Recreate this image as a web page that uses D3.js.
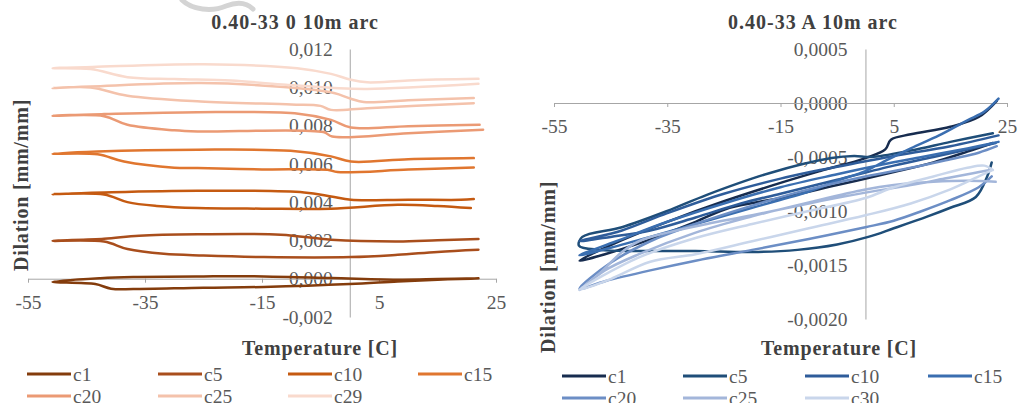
<!DOCTYPE html>
<html>
<head>
<meta charset="utf-8">
<script src="https://cdn.jsdelivr.net/npm/d3@7"></script>
<style>
  html, body { margin: 0; padding: 0; background: #fff; }
  svg { display: block; }
  text { font-family: "Liberation Serif", "Times New Roman", serif; }
</style>
</head>
<body>
<svg id="chart" width="1019" height="403"></svg>
<script>
// Thermal dilation cycles, temperature [C] vs dilation [mm/mm]

const tempTicks = [-55, -35, -15, 5, 25];
const leftDilTicks = [-0.002, 0, 0.002, 0.004, 0.006, 0.008, 0.010, 0.012];
const rightDilTicks = [-0.002, -0.0015, -0.001, -0.0005, 0, 0.0005];

const leftTitle = "0.40-33 0 10m arc";
const rightTitle = "0.40-33 A 10m arc";
const xTitle = "Temperature [C]";
const yTitle = "Dilation [mm/mm]";

const leftNames = ["c1", "c5", "c10", "c15", "c20", "c25", "c29"];
const rightNames = ["c1", "c5", "c10", "c15", "c20", "c25", "c30"];

// left specimen cycles: [temperature, dilation]
const leftC1 = [[22, 0.00002], [15, -0.00002], [8.7, -0.00005], [-3.2, 0.00004], [-14.7, 0.00012], [-25, 0.00012], [-37, 0.00009], [-42.6, 0.00003], [-50.8, -0.00016],
  [-43.5, -0.00028], [-40.8, -0.00052], [-37, -0.00054], [-25, -0.00047], [-14.7, -0.00043], [0, -0.00028], [8.2, -0.00014], [15, -0.00005], [20.7, 0.0], [22, 0.00002]];
const leftC5 = [[22, 0.00207], [15, 0.00201], [8.2, 0.00195], [-3.2, 0.00204], [-11.8, 0.0023], [-26, 0.00232], [-36, 0.00225], [-42, 0.00209], [-50.8, 0.00198],
  [-42, 0.00194], [-38, 0.00155], [-31.8, 0.0013], [-25, 0.00121], [-14.7, 0.00113], [0.2, 0.00113], [8.2, 0.00125], [15, 0.0014], [22, 0.00151]];
const leftC10 = [[21.2, 0.00416], [19, 0.00412], [10, 0.00413], [0.2, 0.00412], [-3.2, 0.0043], [-7.8, 0.00451], [-26, 0.0046], [-42, 0.00451], [-50.8, 0.00442],
  [-42, 0.0044], [-38, 0.004], [-33, 0.0038], [-26, 0.00369], [-15, 0.00366], [-3.2, 0.00366], [8.2, 0.00386], [15, 0.0038], [20.7, 0.00369]];
const leftC15 = [[21.2, 0.0063], [10, 0.00624], [0.2, 0.00612], [-3.2, 0.00639], [-10.1, 0.00668], [-26, 0.00674], [-43.1, 0.00665], [-50.8, 0.00653],
  [-43.1, 0.0065], [-38.6, 0.00612], [-30, 0.0058], [-26, 0.00578], [-15, 0.00571], [-3.8, 0.00569], [-2.1, 0.00557], [10, 0.0057], [21.2, 0.00581]];
const leftC20 = [[22.2, 0.00804], [10, 0.00797], [0.2, 0.0079], [-3.2, 0.0083], [-8.8, 0.00862], [-26, 0.0087], [-42, 0.0086], [-50.8, 0.00851],
  [-42, 0.00849], [-38, 0.00804], [-30, 0.00775], [-26, 0.00769], [-4.5, 0.00766], [-3, 0.00743], [10, 0.0076], [22.8, 0.00778]];
const leftC25 = [[21.2, 0.00944], [10, 0.00932], [2.4, 0.00923], [0.2, 0.0094], [-2.7, 0.0097], [-11.3, 0.01001], [-25.4, 0.01022], [-44.3, 0.01004], [-50.8, 0.00996],
  [-44.3, 0.00999], [-38, 0.00956], [-25.5, 0.00926], [-10, 0.0091], [-5, 0.00903], [-3.2, 0.00882], [3, 0.00891], [21.2, 0.00917]];
const leftC29 = [[22, 0.01044], [10, 0.01036], [3, 0.01026], [0.2, 0.01039], [-3.2, 0.0107], [-9, 0.011], [-25, 0.0112], [-44, 0.01106], [-50.8, 0.011],
  [-44.3, 0.01095], [-38, 0.01053], [-30, 0.01043], [-20.3, 0.01035], [-10.9, 0.01013], [-2.7, 0.00996], [3, 0.00991], [22, 0.01018]];

// right specimen cycles: [temperature, dilation]
const rightC1 = [[23.2, 0.00002], [20, -0.00013], [15, -0.00022], [8, -0.00029], [4.5, -0.00034], [3.5, -0.00043], [0, -0.00051], [-8, -0.00063], [-15, -0.00074],
  [-25, -0.00091], [-35, -0.0011], [-43, -0.00127], [-50.5, -0.00146],
  [-46, -0.0014], [-40, -0.0013], [-30, -0.0011], [-24, -0.00097], [-15, -0.00088], [-5, -0.00076], [5, -0.00064], [12, -0.00055], [18, -0.00045], [22.5, -0.00037]];
const rightC5 = [[22.3, -0.00055], [21.5, -0.00068], [19.5, -0.00087], [15, -0.00097], [11, -0.00105], [5, -0.00116], [0.5, -0.00124], [-5, -0.00131], [-12, -0.00136],
  [-20, -0.00138], [-30, -0.00137], [-40, -0.00137], [-47, -0.00136], [-50.6, -0.00132],
  [-50, -0.00124], [-43, -0.00115], [-35, -0.001], [-28, -0.00085], [-17, -0.00065], [-6, -0.00051], [-2, -0.00049], [1, -0.0005], [8, -0.00044], [15, -0.00036], [22.5, -0.00028]];
const rightC10 = [[23.5, -0.0003], [15, -0.0004], [5, -0.00049], [0, -0.00054], [-8, -0.00062], [-15, -0.0007], [-25, -0.00084], [-35, -0.00102], [-43, -0.00118], [-50.5, -0.00128],
  [-45, -0.00124], [-38, -0.00118], [-30, -0.00106], [-22, -0.00093], [-15, -0.00084], [-5, -0.00071], [5, -0.00058], [12, -0.0005], [18, -0.00043], [23, -0.00037]];
const rightC15 = [[23.5, -0.00036], [18, -0.00042], [10, -0.0005], [3, -0.00057], [-5, -0.00066], [-15, -0.00078], [-25, -0.00093], [-35, -0.0011], [-44, -0.00128], [-50.5, -0.00141],
  [-45, -0.00134], [-38, -0.00124], [-30, -0.00112], [-20, -0.00097], [-10, -0.00082], [-5, -0.00072], [0, -0.00063], [3, -0.00055], [8, -0.00042], [13, -0.0003], [18, -0.00016], [21, -0.00008], [23.5, 0.00004]];
const rightC20 = [[23.2, -0.0004], [20, -0.00046], [15, -0.00052], [8, -0.0006], [0, -0.00068], [-10, -0.0008], [-20, -0.00095], [-30, -0.00112], [-38, -0.00128], [-45, -0.00148], [-50.5, -0.00172],
  [-46, -0.00165], [-38, -0.00155], [-30, -0.00146], [-20, -0.00136], [-10, -0.00126], [0, -0.00115], [5, -0.00109], [10, -0.001], [15, -0.0009], [20, -0.00078], [22.3, -0.00068]];
const rightC25 = [[23, -0.00073], [18, -0.00072], [12, -0.00073], [5, -0.00076], [0, -0.0008], [-10, -0.00092], [-20, -0.00105], [-30, -0.0012], [-40, -0.0014], [-46, -0.00155], [-50.5, -0.00173],
  [-47, -0.00158], [-43, -0.00138], [-40, -0.00128], [-35, -0.0012], [-28, -0.00112], [-20, -0.00104], [-10, -0.00093], [0, -0.00083], [8, -0.00076], [14, -0.0007], [19, -0.00065], [22, -0.00062]];
const rightC30 = [[22.5, -0.00062], [21, -0.00058], [18, -0.0006], [12, -0.00068], [5, -0.00078], [0, -0.00088], [-10, -0.001], [-20, -0.00112], [-30, -0.00125], [-40, -0.00143], [-50.5, -0.00173],
  [-45, -0.00163], [-38, -0.00147], [-30, -0.0014], [-20, -0.00128], [-10, -0.00116], [0, -0.00104], [8, -0.00093], [15, -0.0008], [20, -0.00068], [22.5, -0.00062]];

const leftSeries = [leftC1, leftC5, leftC10, leftC15, leftC20, leftC25, leftC29];
const rightSeries = [rightC1, rightC5, rightC10, rightC15, rightC20, rightC25, rightC30];

const leftColors = ["#843c0c", "#a94e1c", "#c55a11", "#e0762f", "#eb9a74", "#f4c2ab", "#f9dacd"];
const rightColors = ["#172c4f", "#1f4e79", "#2e5c9a", "#3a6eb0", "#6c8ec5", "#a3b6da", "#c9d6eb"];

const svg = d3.select("#chart");
// comma decimals and a plain hyphen for negatives
const commaLocale = d3.formatLocale({ decimal: ",", thousands: ".", grouping: [3], currency: ["", ""], minus: "-" });
const axisColor = "#a6a6a6";
const labelColor = "#595959";
const titleColor = "#404040";

// faint watermark swoosh at the top
svg.append("path")
  .attr("d", "M182,0 C192,10 212,12 226,6 C236,2 246,2 253,9")
  .attr("fill", "none").attr("stroke", "#d4d4d4").attr("stroke-width", 5)
  .attr("stroke-linecap", "round");

function drawPanel(cfg) {
  const g = svg.append("g");
  const x = d3.scaleLinear().domain([-55, 25]).range(cfg.xRange);
  const y = d3.scaleLinear().domain(cfg.yDomain).range(cfg.yRange);
  const fmt = commaLocale.format(cfg.yFormat);

  // vertical axis through zero temperature
  const yAxis = d3.axisLeft(y).tickValues(cfg.yTicks).tickSize(0).tickPadding(cfg.yPad).tickFormat(fmt);
  const ya = g.append("g").attr("transform", `translate(${x(0)},0)`).call(yAxis);
  ya.select(".domain").attr("stroke", axisColor);
  ya.selectAll("text").attr("font-size", 19.5).attr("fill", labelColor)
    .attr("font-family", "Liberation Serif");

  // horizontal axis through zero dilation
  const xAxis = d3.axisBottom(x).tickValues(tempTicks).tickSize(4).tickSizeOuter(0).tickPadding(12)
    .tickFormat(commaLocale.format("d"));
  const xa = g.append("g").attr("transform", `translate(0,${y(0)})`).call(xAxis);
  xa.select(".domain").attr("stroke", axisColor);
  xa.selectAll(".tick line").attr("stroke", axisColor);
  xa.selectAll("text").attr("font-size", 19.5).attr("fill", labelColor)
    .attr("font-family", "Liberation Serif");

  // cycle curves
  const line = d3.line().x(d => x(d[0])).y(d => y(d[1])).curve(d3.curveCatmullRom.alpha(0.5));
  cfg.series.forEach((s, i) => {
    g.append("path").datum(s)
      .attr("d", line)
      .attr("fill", "none")
      .attr("stroke", cfg.colors[i])
      .attr("stroke-width", 2.5)
      .attr("stroke-linejoin", "round")
      .attr("stroke-linecap", "round");
  });

  // titles
  g.append("text").attr("x", cfg.titleX).attr("y", 29).attr("text-anchor", "middle")
    .attr("font-size", 20).attr("font-weight", "bold").attr("letter-spacing", 1)
    .attr("fill", titleColor).text(cfg.title);
  g.append("text").attr("x", cfg.xTitleX).attr("y", 355).attr("text-anchor", "middle")
    .attr("font-size", 20).attr("font-weight", "bold").attr("letter-spacing", 0.8)
    .attr("fill", titleColor).text(xTitle);
  g.append("text").attr("transform", `translate(${cfg.yTitleX},${cfg.yTitleY}) rotate(-90)`)
    .attr("text-anchor", "middle")
    .attr("font-size", 20).attr("font-weight", "bold").attr("letter-spacing", 0.8)
    .attr("fill", titleColor).text(yTitle);

  // legend, four entries per row
  cfg.names.forEach((name, i) => {
    const col = i % 4, row = Math.floor(i / 4);
    const lx = cfg.legendX[col], ly = cfg.legendY[row];
    g.append("line").attr("x1", lx).attr("x2", lx + 44).attr("y1", ly).attr("y2", ly)
      .attr("stroke", cfg.colors[i]).attr("stroke-width", 3);
    g.append("text").attr("x", lx + 46).attr("y", ly + 6.5)
      .attr("font-size", 19.5).attr("fill", labelColor).text(name);
  });
}

drawPanel({
  xRange: [28, 496], yDomain: [-0.002, 0.012], yRange: [317, 49],
  yTicks: leftDilTicks, yFormat: ".3f", yPad: 17,
  series: leftSeries, colors: leftColors, names: leftNames,
  title: leftTitle, titleX: 295, xTitleX: 320, yTitleX: 28, yTitleY: 185,
  legendX: [27, 158, 288, 418], legendY: [374, 396]
});

drawPanel({
  xRange: [554, 1007], yDomain: [-0.002, 0.0005], yRange: [319, 49],
  yTicks: rightDilTicks, yFormat: ".4f", yPad: 18,
  series: rightSeries, colors: rightColors, names: rightNames,
  title: rightTitle, titleX: 813, xTitleX: 839, yTitleX: 555, yTitleY: 267,
  legendX: [562, 683, 805, 928], legendY: [376, 398]
});
</script>
</body>
</html>
